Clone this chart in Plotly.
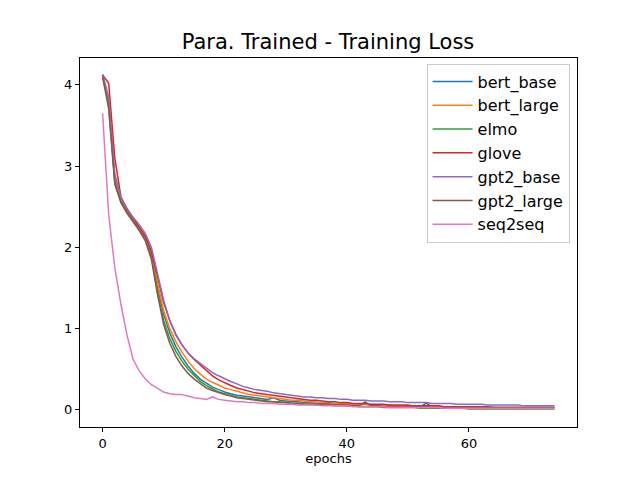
import plotly.graph_objects as go

names = ["bert_base", "bert_large", "elmo", "glove", "gpt2_base", "gpt2_large", "seq2seq"]
colors = ["#1f77b4", "#ff7f0e", "#2ca02c", "#d62728", "#9467bd", "#8c564b", "#e377c2"]

bert_base = [4.12,3.78,2.82,2.58,2.45,2.34,2.24,2.12,1.92,1.52,1.18,0.95,0.78,0.65,0.54,0.45,0.38,0.33,0.28,0.25,0.22,0.2,0.18,0.17,0.16,0.15,0.14,0.13,0.15,0.12,0.11,0.1,0.1,0.09,0.09,0.08,0.08,0.08,0.07,0.07,0.07,0.06,0.06,0.07,0.06,0.06,0.05,0.05,0.05,0.05,0.05,0.05,0.04,0.08,0.04,0.04,0.04,0.04,0.04,0.04,0.03,0.03,0.03,0.03,0.03,0.03,0.03,0.03,0.03,0.03,0.03,0.03,0.03,0.03,0.03]
bert_large = [4.1,3.82,2.86,2.6,2.46,2.35,2.25,2.13,1.93,1.55,1.22,1.0,0.84,0.71,0.6,0.51,0.44,0.38,0.34,0.3,0.27,0.25,0.23,0.21,0.19,0.18,0.17,0.16,0.15,0.14,0.13,0.12,0.12,0.11,0.1,0.1,0.09,0.09,0.08,0.08,0.08,0.07,0.07,0.07,0.06,0.06,0.06,0.06,0.05,0.05,0.05,0.05,0.05,0.04,0.04,0.04,0.04,0.04,0.04,0.04,0.04,0.03,0.03,0.03,0.03,0.03,0.03,0.03,0.03,0.03,0.03,0.03,0.03,0.03,0.03]
elmo = [4.11,3.75,2.8,2.56,2.43,2.32,2.22,2.1,1.88,1.45,1.1,0.88,0.72,0.6,0.5,0.42,0.35,0.3,0.26,0.22,0.2,0.18,0.16,0.15,0.14,0.13,0.12,0.11,0.1,0.1,0.09,0.08,0.08,0.07,0.07,0.06,0.06,0.06,0.05,0.05,0.05,0.05,0.04,0.04,0.04,0.04,0.03,0.03,0.03,0.03,0.03,0.03,0.02,0.02,0.02,0.02,0.02,0.02,0.02,0.02,0.01,0.01,0.01,0.01,0.01,0.01,0.01,0.01,0.01,0.01,0.01,0.01,0.01,0.01,0.01]
glove = [4.12,4.02,3.1,2.62,2.47,2.36,2.26,2.14,1.95,1.62,1.32,1.1,0.93,0.8,0.7,0.62,0.55,0.48,0.42,0.37,0.33,0.3,0.27,0.25,0.23,0.21,0.2,0.19,0.18,0.17,0.16,0.15,0.14,0.13,0.12,0.12,0.11,0.1,0.1,0.09,0.09,0.08,0.08,0.08,0.07,0.07,0.07,0.06,0.06,0.06,0.06,0.05,0.05,0.05,0.05,0.05,0.04,0.04,0.04,0.04,0.04,0.04,0.04,0.04,0.03,0.03,0.03,0.03,0.03,0.03,0.03,0.03,0.03,0.03,0.03]
gpt2_base = [4.13,3.85,2.9,2.62,2.48,2.37,2.28,2.17,2.0,1.68,1.35,1.1,0.92,0.8,0.7,0.63,0.57,0.51,0.46,0.42,0.38,0.35,0.32,0.29,0.27,0.25,0.24,0.23,0.21,0.2,0.19,0.18,0.17,0.16,0.16,0.15,0.15,0.14,0.14,0.13,0.13,0.12,0.12,0.12,0.11,0.11,0.11,0.1,0.1,0.1,0.09,0.09,0.09,0.09,0.08,0.08,0.08,0.08,0.07,0.07,0.07,0.07,0.07,0.06,0.06,0.06,0.06,0.06,0.06,0.05,0.05,0.05,0.05,0.05,0.05]
gpt2_large = [4.1,3.7,2.78,2.55,2.42,2.31,2.21,2.08,1.85,1.42,1.05,0.82,0.66,0.54,0.45,0.38,0.32,0.27,0.24,0.21,0.19,0.17,0.15,0.14,0.13,0.12,0.11,0.1,0.1,0.09,0.09,0.08,0.08,0.07,0.07,0.07,0.06,0.06,0.06,0.06,0.05,0.05,0.05,0.1,0.05,0.05,0.04,0.04,0.04,0.04,0.04,0.04,0.04,0.04,0.03,0.03,0.03,0.03,0.03,0.03,0.03,0.03,0.03,0.03,0.03,0.02,0.02,0.02,0.02,0.02,0.02,0.02,0.02,0.02,0.02]
seq2seq = [3.65,2.4,1.75,1.3,0.92,0.62,0.48,0.38,0.31,0.26,0.22,0.2,0.19,0.19,0.17,0.15,0.14,0.13,0.16,0.13,0.12,0.11,0.1,0.1,0.09,0.09,0.08,0.08,0.08,0.07,0.07,0.07,0.06,0.06,0.06,0.06,0.05,0.05,0.05,0.05,0.05,0.04,0.04,0.04,0.04,0.04,0.04,0.03,0.03,0.03,0.03,0.03,0.03,0.03,0.03,0.03,0.02,0.02,0.02,0.02,0.02,0.02,0.02,0.02,0.02,0.02,0.02,0.02,0.02,0.02,0.02,0.02,0.02,0.02,0.02]

series = [bert_base, bert_large, elmo, glove, gpt2_base, gpt2_large, seq2seq]

fig = go.Figure()
for name, col, ys in zip(names, colors, series):
    fig.add_trace(go.Scatter(x=list(range(len(ys))), y=ys, mode="lines", name=name,
                             line=dict(color=col, width=1.5)))

axis = dict(showgrid=False, zeroline=False, showline=True, linecolor="black", mirror=True,
            ticks="outside", ticklen=4, tickcolor="black", tickfont=dict(size=13, color="black"))
fig.update_layout(
    width=640, height=480, plot_bgcolor="white", paper_bgcolor="white",
    font=dict(family="DejaVu Sans", color="black"),
    margin=dict(l=72, r=71, t=50, b=61),
    title=dict(text="Para. Trained - Training Loss", x=0.5, xanchor="center", y=0.93, yanchor="middle",
               font=dict(size=21)),
    xaxis=dict(axis, range=[-3.7, 77.7], tickvals=[0, 20, 40, 60],
               title=dict(text="epochs", font=dict(size=13), standoff=4)),
    yaxis=dict(axis, range=[-0.21, 4.33], tickvals=[0, 1, 2, 3, 4]),
    legend=dict(x=0.985, y=0.985, xanchor="right", yanchor="top", bordercolor="#cccccc", borderwidth=1,
                font=dict(size=16), bgcolor="rgba(255,255,255,0.8)", itemwidth=40),
)
fig.write_html("out.html")
